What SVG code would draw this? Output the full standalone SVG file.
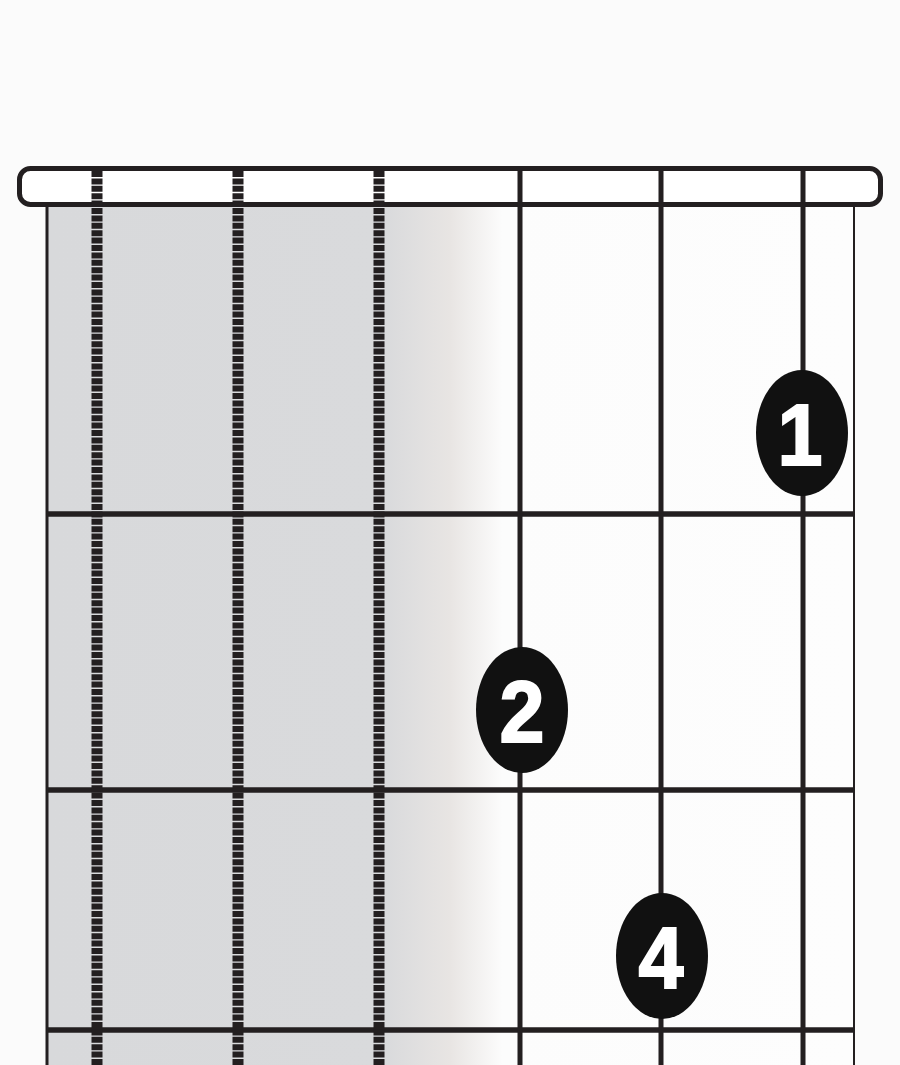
<svg xmlns="http://www.w3.org/2000/svg" width="900" height="1065" viewBox="0 0 900 1065">
<defs>
<linearGradient id="board" gradientUnits="userSpaceOnUse" x1="47" y1="0" x2="853" y2="0">
<stop offset="0" stop-color="#d8d9db"/>
<stop offset="0.42" stop-color="#d9dadc"/>
<stop offset="0.5" stop-color="#e8e5e3"/>
<stop offset="0.565" stop-color="#fcfcfc"/>
<stop offset="1" stop-color="#fdfdfd"/>
</linearGradient>
<style>
.ln{stroke:#231f20;fill:none}
.dash{stroke:#231f20;stroke-width:11;stroke-dasharray:6 1.4;fill:none}
.str{stroke:#231f20;stroke-width:5;fill:none}
.fret{stroke:#231f20;stroke-width:5.5;fill:none}
.dot{fill:#111111}
.num{fill:#ffffff;stroke:#ffffff;stroke-width:2;font-family:"Liberation Sans",Arial,sans-serif;font-weight:bold;font-size:88px;text-anchor:middle}
</style>
</defs>
<rect width="900" height="1065" fill="#fbfbfb"/>
<g id="fingerboard">
<rect x="47" y="204" width="806" height="861" fill="url(#board)"/>
<line class="ln" x1="47" y1="204" x2="47" y2="1065" stroke-width="3"/>
<line class="ln" x1="854" y1="204" x2="854" y2="1065" stroke-width="2"/>
</g>
<g id="nut">
<rect x="19.5" y="168.5" width="861" height="36" rx="11" fill="#ffffff" stroke="#231f20" stroke-width="5"/>
</g>
<g id="frets">
<line class="fret" x1="47" y1="514" x2="853" y2="514"/>
<line class="fret" x1="47" y1="790" x2="853" y2="790"/>
<line class="fret" x1="47" y1="1030" x2="853" y2="1030"/>
</g>
<g id="strings">
<line class="dash" x1="97" y1="171" x2="97" y2="1065"/>
<line class="dash" x1="238" y1="171" x2="238" y2="1065"/>
<line class="dash" x1="379" y1="171" x2="379" y2="1065"/>
<line class="str" x1="520" y1="170" x2="520" y2="1065"/>
<line class="str" x1="661" y1="170" x2="661" y2="1065"/>
<line class="str" x1="803" y1="170" x2="803" y2="1065"/>
</g>
<g id="finger1">
<ellipse class="dot" cx="802" cy="433" rx="46" ry="63"/>
<text class="num" x="800" y="465" transform="translate(800 0) scale(0.92 1) translate(-800 0)">1</text>
</g>
<g id="finger2">
<ellipse class="dot" cx="522" cy="710" rx="46" ry="63"/>
<text class="num" x="522" y="742" transform="translate(522 0) scale(0.92 1) translate(-522 0)">2</text>
</g>
<g id="finger4">
<ellipse class="dot" cx="662" cy="956" rx="46" ry="63"/>
<text class="num" x="661" y="988" transform="translate(661 0) scale(0.92 1) translate(-661 0)">4</text>
</g>
</svg>
